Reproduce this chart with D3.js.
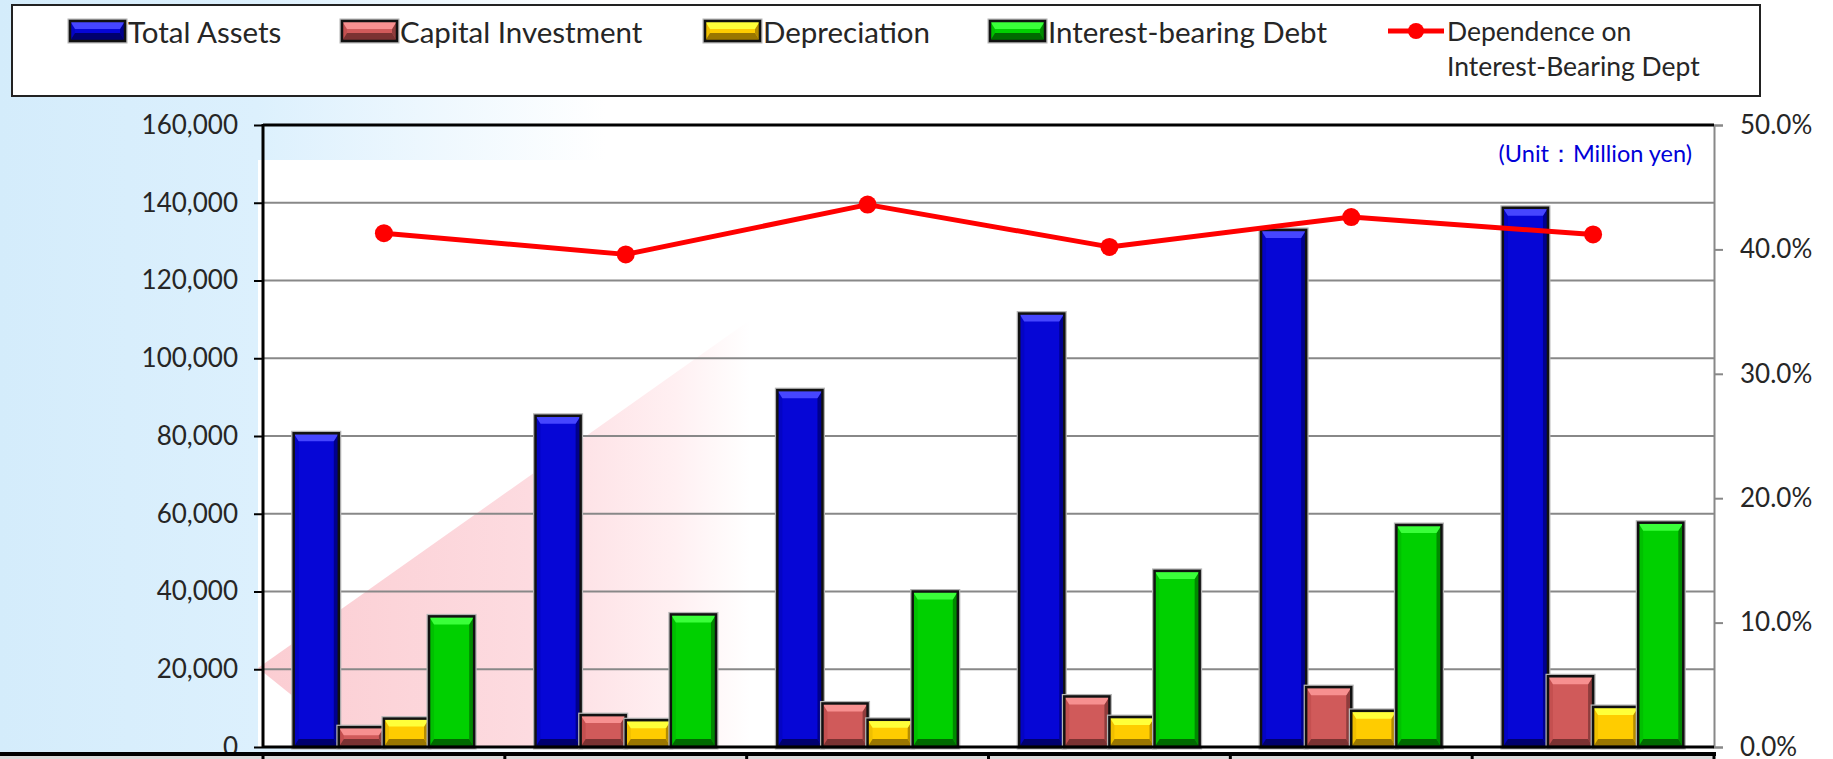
<!DOCTYPE html>
<html>
<head>
<meta charset="utf-8">
<script src="https://cdn.jsdelivr.net/npm/d3@7"></script>
<style>
  body { margin: 0; background: #fff; overflow: hidden; }
  svg { display: block; font-family: Lato, "Open Sans", sans-serif; }
</style>
</head>
<body>
<svg width="1833" height="759"></svg>
<script>
// period names live in the table row under the plot, which is cut off in the picture
var periods = ["FY1", "FY2", "FY3", "FY4", "FY5", "FY6"];
var seriesNames = ["Total Assets", "Capital Investment", "Depreciation", "Interest-bearing Debt"];
var lineName = ["Dependence on", "Interest-Bearing Dept"];

var totalAssets       = [80700, 85200, 91800, 111500, 133000, 138700];
var capitalInvestment = [5100, 8200, 11200, 13000, 15400, 18200];
var depreciation      = [7300, 6900, 7000, 7700, 9300, 10300];
var interestDebt      = [33600, 34100, 40000, 45300, 57100, 57700];
var dependence        = [41.3, 39.6, 43.6, 40.2, 42.6, 41.2]; // percent

var leftTicks  = [0, 20000, 40000, 60000, 80000, 100000, 120000, 140000, 160000];
var rightTicks = [0, 10, 20, 30, 40, 50];

var seriesValues = [totalAssets, capitalInvestment, depreciation, interestDebt];

var palette = [
  { base: "#0606d6", top: "#4646ff", bottom: "#00006e", left: "#0404c4", right: "#00008c" },
  { base: "#d05a5a", top: "#f79090", bottom: "#7a3232", left: "#c45050", right: "#8e3c3c" },
  { base: "#ffcc00", top: "#ffff3a", bottom: "#9a7600", left: "#f0bf00", right: "#b48c00" },
  { base: "#00d000", top: "#3aff3a", bottom: "#006a00", left: "#00c000", right: "#008a00" }
];

var svg = d3.select("svg"),
    width = +svg.attr("width"),
    height = +svg.attr("height");

var plotL = 263, plotR = 1714, plotT = 125, plotB = 747;

var x = d3.scaleBand().domain(periods).range([plotL, plotR]);
var xs = d3.scaleBand().domain(d3.range(seriesNames.length)).range([0, x.bandwidth()]).paddingOuter(0.68);
var y = d3.scaleLinear().domain([0, 160000]).range([plotB, plotT]);
var y2 = d3.scaleLinear().domain([0, 50]).range([plotB, plotT]);

// ---- background ----
var defs = svg.append("defs");
var bg = defs.append("linearGradient").attr("id", "bg").attr("x1", 0).attr("x2", 1).attr("y1", 0).attr("y2", 0);
bg.append("stop").attr("offset", "0").attr("stop-color", "#d4ecfb");
bg.append("stop").attr("offset", "0.14").attr("stop-color", "#dcf0fd");
bg.append("stop").attr("offset", "0.33").attr("stop-color", "#ffffff");
bg.append("stop").attr("offset", "1").attr("stop-color", "#ffffff");

var pink = defs.append("linearGradient").attr("id", "pink").attr("gradientUnits", "userSpaceOnUse")
    .attr("x1", 258).attr("x2", 750).attr("y1", 0).attr("y2", 0);
pink.append("stop").attr("offset", "0").attr("stop-color", "#fbcdd2");
pink.append("stop").attr("offset", "0.55").attr("stop-color", "#fddbe0");
pink.append("stop").attr("offset", "0.85").attr("stop-color", "#fff0f2");
pink.append("stop").attr("offset", "1").attr("stop-color", "#ffffff");

defs.append("clipPath").attr("id", "plotclip")
  .append("rect").attr("x", 258).attr("y", plotT).attr("width", plotR - 258).attr("height", plotB - plotT);

svg.append("rect").attr("width", width).attr("height", height).attr("fill", "url(#bg)");
svg.append("rect").attr("x", 258).attr("y", 160).attr("width", plotR - 258).attr("height", plotB - 160).attr("fill", "#fff");

svg.append("g").attr("clip-path", "url(#plotclip)")
  .append("polygon")
    .attr("points", [[258, 668], [760, 313], [760, 760], [372, 760]].join(" "))
    .attr("fill", "url(#pink)");

// ---- grid ----
svg.append("g")
  .selectAll("line")
  .data(leftTicks.slice(1, -1))
  .enter().append("line")
    .attr("x1", plotL).attr("x2", plotR)
    .attr("y1", function(d) { return y(d); })
    .attr("y2", function(d) { return y(d); })
    .attr("stroke", "#888").attr("stroke-width", 2);

// ---- bars ----
function bevel(g, bx, by, w, h, c) {
  var b = Math.min(8, h / 2), s = Math.min(5, w / 2);
  g.append("rect").attr("x", bx - 1).attr("y", by - 1).attr("width", w + 2).attr("height", h + 2)
    .attr("fill", "none").attr("stroke", "#b4b4b4").attr("stroke-width", 3);
  g.append("rect").attr("x", bx).attr("y", by).attr("width", w).attr("height", h).attr("fill", c.base);
  var polys = [
    [[[bx, by], [bx + s, by + b], [bx + s, by + h - b], [bx, by + h]], c.left],
    [[[bx + w, by], [bx + w - s, by + b], [bx + w - s, by + h - b], [bx + w, by + h]], c.right],
    [[[bx, by], [bx + w, by], [bx + w - s, by + b], [bx + s, by + b]], c.top],
    [[[bx, by + h], [bx + w, by + h], [bx + w - s, by + h - b], [bx + s, by + h - b]], c.bottom]
  ];
  polys.forEach(function(p) {
    g.append("polygon").attr("points", p[0].join(" ")).attr("fill", p[1]);
  });
  g.append("rect").attr("x", bx).attr("y", by).attr("width", w).attr("height", h)
    .attr("fill", "none").attr("stroke", "#111").attr("stroke-width", 2.5);
}

var groups = svg.append("g").selectAll(".grp")
  .data(periods)
  .enter().append("g")
    .attr("class", "grp")
    .attr("transform", function(d) { return "translate(" + x(d) + ",0)"; });

groups.each(function(p, i) {
  var g = d3.select(this);
  seriesValues.forEach(function(vals, k) {
    var v = vals[i];
    bevel(g.append("g"), xs(k), y(v), xs.bandwidth(), y(0) - y(v), palette[k]);
  });
});

// ---- axes ----
var yAxis = svg.append("g")
    .attr("transform", "translate(" + plotL + ",0)")
    .call(d3.axisLeft(y).tickValues(leftTicks).tickFormat(d3.format(",")).tickSize(9).tickPadding(16));
yAxis.select(".domain").remove();
yAxis.selectAll("line").attr("stroke", "#000").attr("stroke-width", 2);
yAxis.attr("font-family", null).attr("font-size", 26);
yAxis.selectAll("text").attr("fill", "#262626");

var yAxis2 = svg.append("g")
    .attr("transform", "translate(" + plotR + ",0)")
    .call(d3.axisRight(y2).tickValues(rightTicks).tickFormat(function(d) { return d.toFixed(1) + "%"; }).tickSize(9).tickPadding(17));
yAxis2.select(".domain").attr("stroke", "#888").attr("stroke-width", 2);
yAxis2.selectAll("line").attr("stroke", "#888").attr("stroke-width", 2);
yAxis2.attr("font-family", null).attr("font-size", 26);
yAxis2.selectAll("text").attr("fill", "#262626");

svg.append("line").attr("x1", plotL).attr("x2", plotL).attr("y1", plotT - 1).attr("y2", plotB + 1)
  .attr("stroke", "#000").attr("stroke-width", 3);
svg.append("line").attr("x1", plotL).attr("x2", plotR).attr("y1", plotT).attr("y2", plotT)
  .attr("stroke", "#000").attr("stroke-width", 3);
svg.append("line").attr("x1", plotL).attr("x2", plotR).attr("y1", plotB).attr("y2", plotB)
  .attr("stroke", "#000").attr("stroke-width", 3);

// ---- line series ----
var line = d3.line()
  .x(function(d, i) { return x(periods[i]) + x.bandwidth() / 2; })
  .y(function(d) { return y2(d); });

svg.append("path").datum(dependence)
  .attr("d", line).attr("fill", "none").attr("stroke", "#ff0000").attr("stroke-width", 5)
  .attr("stroke-linejoin", "round");

svg.append("g").selectAll("circle")
  .data(dependence)
  .enter().append("circle")
    .attr("cx", function(d, i) { return x(periods[i]) + x.bandwidth() / 2; })
    .attr("cy", function(d) { return y2(d); })
    .attr("r", 9)
    .attr("fill", "#ff0000");

svg.append("text")
  .attr("x", 1692).attr("y", 162)
  .attr("text-anchor", "end")
  .attr("font-size", 23.5)
  .attr("fill", "#0000d8")
  .text("(Unit\uFF1AMillion yen)");

// ---- table row under the plot ----
var table = svg.append("g");
table.append("rect").attr("x", 0).attr("y", 753).attr("width", plotR + 1).attr("height", 20).attr("fill", "#d9d9d9");
table.append("line").attr("x1", 0).attr("x2", plotR + 2).attr("y1", 754).attr("y2", 754)
  .attr("stroke", "#000").attr("stroke-width", 4);
table.selectAll(".div")
  .data(periods.map(function(p) { return x(p); }).concat([x.range()[1]]))
  .enter().append("line")
    .attr("x1", function(d) { return d; }).attr("x2", function(d) { return d; })
    .attr("y1", 753).attr("y2", 770)
    .attr("stroke", "#000").attr("stroke-width", 3);

// ---- legend ----
var legend = svg.append("g");
legend.append("rect").attr("x", 12).attr("y", 5).attr("width", 1748).attr("height", 91)
  .attr("fill", "#fff").attr("stroke", "#222").attr("stroke-width", 2);

var legendX = [70, 342, 705, 990];
seriesNames.forEach(function(name, k) {
  var g = legend.append("g");
  bevel(g, legendX[k], 21, 55, 20, palette[k]);
  g.append("text")
    .attr("x", legendX[k] + 58).attr("y", 31)
    .attr("dominant-baseline", "central")
    .attr("font-size", 29.5).attr("fill", "#262626")
    .text(name);
});

legend.append("line").attr("x1", 1388).attr("x2", 1444).attr("y1", 31).attr("y2", 31)
  .attr("stroke", "#ff0000").attr("stroke-width", 5);
legend.append("circle").attr("cx", 1416).attr("cy", 31).attr("r", 8).attr("fill", "#ff0000");
lineName.forEach(function(t, j) {
  legend.append("text")
    .attr("x", 1447).attr("y", 31 + j * 35)
    .attr("dominant-baseline", "central")
    .attr("font-size", 26.5).attr("fill", "#262626")
    .text(t);
});
</script>
</body>
</html>
